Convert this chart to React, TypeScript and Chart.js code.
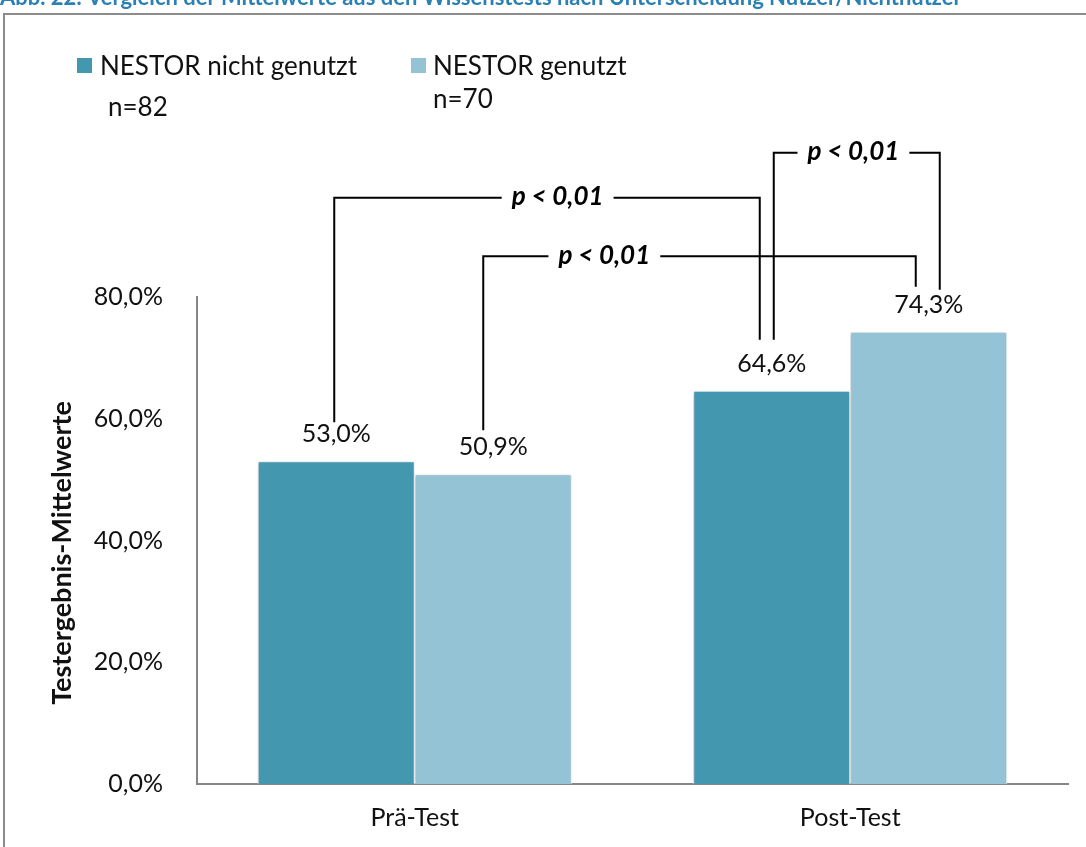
import React, { useEffect, useRef } from 'react';
import { Chart, registerables } from 'chart.js';

Chart.register(...registerables);

// ---- data ----
const categories = ['Prä-Test', 'Post-Test'];
const seriesNames = ['NESTOR nicht genutzt', 'NESTOR genutzt'];
const sampleSizes = ['n=82', 'n=70'];
const nichtGenutzt = [53.0, 64.6];
const genutzt = [50.9, 74.3];
const yMin = 0;
const yMax = 80;
const yStep = 20;
const yTitle = 'Testergebnis-Mittelwerte';
const titleText =
  'Abb. 22: Vergleich der Mittelwerte aus den Wissenstests nach Unterscheidung Nutzer/Nichtnutzer';
// significance brackets: [datasetIndex, categoryIndex]
const bracketFrom = [[0, 0], [1, 0], [0, 1]];
const bracketTo = [[0, 1], [1, 1], [1, 1]];
const bracketLabels = ['p < 0,01', 'p < 0,01', 'p < 0,01'];

// ---- style ----
const FONT = 'Lato, "Open Sans", sans-serif';
const DARK = '#4398B0';
const LIGHT = '#94C3D5';
const AXIS = '#868686';
const TEXT = '#111111';

const BRACKET_LAYOUT = [
  { level: 96.3, dx: [-2, -12], gap: [39, 51], textAt: 0.525 },
  { level: 86.7, dx: [-10, -13], gap: [44, 45], textAt: 0.28 },
  { level: 103.7, dx: [2, 11], gap: [51, 42], textAt: 0.48 },
];

const LEGEND_LAYOUT = [
  { sx: 77, sy: 58, tx: 100, ty: 67, nx: 108, ny: 108 },
  { sx: 411, sy: 58, tx: 433, ty: 67, nx: 433, ny: 100 },
];

const fmt = (v: number) => v.toFixed(1).replace('.', ',') + '%';

const decorPlugin = {
  id: 'decor',
  beforeDraw(chart: any) {
    const { ctx, width, height } = chart;
    ctx.save();
    ctx.fillStyle = '#ffffff';
    ctx.fillRect(0, 0, width, height);
    // frame
    ctx.strokeStyle = '#8c8c8c';
    ctx.lineWidth = 2;
    ctx.beginPath();
    ctx.moveTo(4, height);
    ctx.lineTo(4, 14);
    ctx.lineTo(width, 14);
    ctx.stroke();
    // cropped caption
    ctx.font = `bold 20px ${FONT}`;
    const w = ctx.measureText(titleText).width;
    const size = (20 * 962) / w;
    ctx.font = `bold ${size}px ${FONT}`;
    ctx.fillStyle = '#2B80B3';
    ctx.textAlign = 'left';
    ctx.textBaseline = 'alphabetic';
    ctx.fillText(titleText, 0, 5);
    ctx.restore();
  },
};

const shadowPlugin = {
  id: 'barShadow',
  beforeDatasetsDraw(chart: any) {
    const { ctx } = chart;
    ctx.save();
    ctx.shadowColor = 'rgba(0,0,0,0.28)';
    ctx.shadowBlur = 4;
    ctx.shadowOffsetX = -1;
    ctx.shadowOffsetY = 1;
  },
  afterDatasetsDraw(chart: any) {
    chart.ctx.restore();
  },
};

const overlayPlugin = {
  id: 'overlay',
  afterDraw(chart: any) {
    const { ctx } = chart;
    const yScale = chart.scales.y;
    ctx.save();

    // value labels
    ctx.font = `25px ${FONT}`;
    ctx.fillStyle = TEXT;
    ctx.textAlign = 'center';
    ctx.textBaseline = 'middle';
    chart.data.datasets.forEach((ds: any, di: number) => {
      const meta = chart.getDatasetMeta(di);
      meta.data.forEach((el: any, i: number) => {
        ctx.fillText(fmt(ds.data[i]), el.x, el.y - 27);
      });
    });

    // y-axis title
    ctx.save();
    ctx.translate(62, 553);
    ctx.rotate(-Math.PI / 2);
    ctx.font = `bold 27px ${FONT}`;
    ctx.fillStyle = TEXT;
    ctx.textAlign = 'center';
    ctx.textBaseline = 'middle';
    ctx.fillText(yTitle, 0, 0);
    ctx.restore();

    // legend
    chart.data.datasets.forEach((ds: any, di: number) => {
      const L = LEGEND_LAYOUT[di];
      ctx.fillStyle = ds.backgroundColor;
      ctx.fillRect(L.sx, L.sy, 15, 15);
      ctx.fillStyle = TEXT;
      ctx.font = `26px ${FONT}`;
      ctx.textAlign = 'left';
      ctx.textBaseline = 'middle';
      ctx.fillText(ds.label, L.tx, L.ty);
      ctx.fillText(sampleSizes[di], L.nx, L.ny);
    });

    // brackets
    ctx.strokeStyle = '#000000';
    ctx.lineWidth = 2;
    ctx.font = `italic bold 26px ${FONT}`;
    bracketLabels.forEach((label, bi) => {
      const B = BRACKET_LAYOUT[bi];
      const a = chart.getDatasetMeta(bracketFrom[bi][0]).data[bracketFrom[bi][1]];
      const b = chart.getDatasetMeta(bracketTo[bi][0]).data[bracketTo[bi][1]];
      const x1 = a.x + B.dx[0];
      const x2 = b.x + B.dx[1];
      const y = yScale.getPixelForValue(B.level);
      const tw = ctx.measureText(label).width;
      const tc = x1 + (x2 - x1) * B.textAt;
      const tl = tc - tw / 2;
      const tr = tc + tw / 2;
      ctx.beginPath();
      ctx.moveTo(x1, a.y - B.gap[0]);
      ctx.lineTo(x1, y);
      ctx.lineTo(tl - 10, y);
      ctx.moveTo(tr + 10, y);
      ctx.lineTo(x2, y);
      ctx.lineTo(x2, b.y - B.gap[1]);
      ctx.stroke();
      ctx.fillStyle = '#000000';
      ctx.textAlign = 'center';
      ctx.textBaseline = 'middle';
      ctx.fillText(label, tc, y - 1);
    });

    ctx.restore();
  },
};

export default function App() {
  const ref = useRef<HTMLCanvasElement | null>(null);

  useEffect(() => {
    if (!ref.current) return;
    const chart = new Chart(ref.current, {
      type: 'bar',
      data: {
        labels: categories,
        datasets: [
          {
            label: seriesNames[0],
            data: nichtGenutzt,
            backgroundColor: DARK,
            borderColor: '#ffffff',
            borderWidth: 1,
          },
          {
            label: seriesNames[1],
            data: genutzt,
            backgroundColor: LIGHT,
            borderColor: '#ffffff',
            borderWidth: 1,
          },
        ],
      },
      options: {
        responsive: false,
        animation: false,
        devicePixelRatio: 1,
        layout: { padding: { top: 297, right: 18, left: 0, bottom: 0 } },
        datasets: { bar: { categoryPercentage: 0.721, barPercentage: 1 } } as any,
        plugins: {
          legend: { display: false },
          tooltip: { enabled: false },
          title: { display: false },
        },
        scales: {
          x: {
            z: 1,
            grid: { display: false },
            border: { display: true, color: AXIS, width: 2 },
            ticks: { font: { family: FONT, size: 25 }, color: TEXT, padding: 11 },
            afterFit: (s: any) => {
              s.height = 63;
            },
          },
          y: {
            min: yMin,
            max: yMax,
            grid: { display: false },
            border: { display: true, color: AXIS, width: 2 },
            ticks: {
              stepSize: yStep,
              font: { family: FONT, size: 25 },
              color: TEXT,
              padding: 26,
              callback: (v: any) => fmt(Number(v)),
            },
            afterFit: (s: any) => {
              s.width = 197;
            },
          },
        },
      } as any,
      plugins: [decorPlugin, shadowPlugin, overlayPlugin],
    });
    return () => chart.destroy();
  }, []);

  return (
    <div style={{ position: 'absolute', left: 0, top: 0, width: 1086, height: 847 }}>
      <canvas ref={ref} width={1086} height={847} style={{ width: 1086, height: 847, display: 'block' }} />
    </div>
  );
}
